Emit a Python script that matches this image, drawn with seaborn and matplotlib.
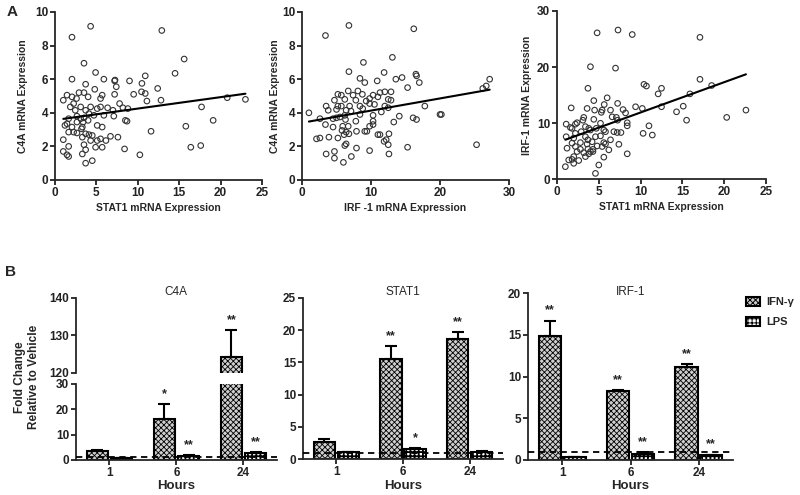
import matplotlib
matplotlib.use("Agg")
import matplotlib.pyplot as plt
from matplotlib.patches import Patch
import numpy as np
import pandas as pd
import seaborn as sns

# ── Panel A: scatter data ────────────────────────────────────────────
A1_STAT1 = [4.3, 12.9, 2.05, 15.6, 3.5, 4.9, 14.5, 2.05, 5.9, 10.9, 7.25, 7.2, 9.0, 10.5, 3.7,
            7.4, 12.4, 4.8, 10.45, 10.9, 9.5, 7.2, 2.9, 1.45, 2.05, 2.6, 3.5, 4.0, 5.5, 5.7,
            11.1, 12.8, 20.8, 23.0, 17.7, 7.8, 1.0, 1.85, 2.25, 2.45, 3.1, 3.7, 4.3, 5.1, 5.5,
            6.35, 7.0, 8.2, 8.8, 4.1, 4.7, 5.9, 7.1, 3.5, 2.65, 1.65, 1.2, 1.45, 3.1, 3.4,
            4.0, 2.65, 3.3, 3.2, 5.1, 5.7, 8.5, 8.7, 19.1, 15.8, 2.05, 2.25, 1.65, 2.65, 3.7,
            4.1, 4.5, 3.3, 11.6, 6.7, 7.6, 1.0, 4.3, 5.1, 5.5, 6.15, 1.65, 3.5, 4.9, 5.7,
            16.4, 17.6, 8.4, 10.25, 1.0, 1.45, 1.65, 3.3, 3.7, 4.5, 3.7]
A1_C4A = [9.15, 8.9, 8.5, 7.2, 6.95, 6.4, 6.35, 6.0, 6.0, 6.2, 5.95, 5.9, 5.9, 5.75, 5.7,
          5.55, 5.45, 5.4, 5.25, 5.15, 5.1, 5.1, 5.2, 5.05, 4.95, 4.85, 5.2, 4.95, 4.85, 5.05,
          4.7, 4.75, 4.9, 4.8, 4.35, 4.55, 4.75, 4.35, 4.55, 4.15, 4.35, 4.15, 4.35, 4.25, 4.35,
          4.3, 4.15, 4.3, 4.25, 3.95, 3.85, 3.85, 3.8, 3.7, 3.8, 3.65, 3.25, 3.35, 3.65, 3.45,
          3.55, 3.45, 3.15, 3.05, 3.25, 3.15, 3.55, 3.5, 3.55, 3.2, 3.15, 2.85, 2.85, 2.8, 2.75,
          2.7, 2.65, 2.55, 2.9, 2.6, 2.55, 2.4, 2.35, 2.35, 2.45, 2.35, 2.0, 2.1, 1.95, 1.95,
          1.95, 2.05, 1.85, 1.5, 1.7, 1.5, 1.4, 1.55, 1.8, 1.15, 1.0]

A2_IRF1 = [6.8, 16.2, 3.4, 8.9, 13.1, 6.8, 11.9, 16.5, 16.6, 8.4, 13.6, 14.5, 10.9, 9.1, 17.0,
           27.2, 15.3, 26.2, 26.7, 6.7, 8.1, 11.3, 12.9, 5.2, 5.7, 7.4, 8.75, 10.3, 12.0, 11.0,
           9.8, 4.7, 6.2, 7.8, 9.3, 12.5, 12.9, 3.5, 5.2, 5.7, 6.9, 8.4, 9.8, 10.5, 12.0,
           12.5, 17.8, 3.8, 5.0, 6.4, 7.1, 8.8, 11.5, 1.0, 5.5, 6.2, 8.4, 10.3, 14.1, 4.5,
           5.0, 6.3, 7.8, 10.3, 16.1, 16.6, 20.0, 20.2, 2.6, 3.4, 4.5, 5.9, 6.7, 9.8, 10.3,
           13.3, 5.8, 6.4, 7.9, 9.1, 9.4, 6.1, 6.8, 3.9, 5.2, 11.0, 11.3, 12.6, 2.1, 2.6,
           12.2, 11.9, 12.5, 6.2, 6.4, 7.9, 3.5, 4.7, 9.8, 15.3, 25.3, 4.7, 7.15, 12.6, 6.0]
A2_C4A = [9.2, 9.0, 8.6, 7.0, 7.3, 6.45, 6.4, 6.3, 6.2, 6.05, 6.0, 6.1, 5.9, 5.8, 5.8,
          6.0, 5.5, 5.45, 5.6, 5.3, 5.3, 5.2, 5.25, 5.1, 5.05, 5.05, 5.1, 5.05, 5.25, 4.95,
          4.85, 4.75, 4.8, 4.75, 4.7, 4.8, 4.75, 4.4, 4.4, 4.4, 4.4, 4.4, 4.55, 4.5, 4.4,
          4.3, 4.4, 4.15, 4.2, 4.15, 4.1, 4.25, 4.05, 4.0, 3.75, 3.85, 3.9, 3.85, 3.8, 3.65,
          3.7, 3.6, 3.5, 3.5, 3.7, 3.6, 3.9, 3.9, 3.65, 3.3, 3.15, 3.2, 3.2, 3.2, 3.3,
          3.45, 2.95, 2.85, 2.9, 2.9, 2.9, 2.7, 2.75, 2.55, 2.5, 2.7, 2.7, 2.75, 2.45, 2.5,
          2.4, 2.3, 2.1, 2.05, 2.15, 1.9, 1.55, 1.7, 1.75, 1.95, 2.1, 1.3, 1.4, 1.55, 1.05]

A3_STAT1 = [4.8, 7.3, 9.0, 17.1, 4.0, 7.0, 17.1, 10.4, 10.7, 3.7, 12.5, 12.1, 15.9, 18.5, 6.0,
            4.4, 7.25, 5.65, 15.1, 12.5, 9.4, 1.7, 3.6, 4.5, 5.4, 6.4, 7.9, 10.2, 22.6, 8.2,
            5.3, 14.3, 3.2, 20.3, 6.6, 7.1, 7.25, 4.4, 3.1, 2.4, 15.5, 8.4, 5.2, 1.1, 2.2,
            8.4, 11.0, 3.4, 1.6, 1.8, 3.8, 4.7, 4.0, 5.6, 5.8, 6.8, 2.9, 2.2, 7.2, 7.65,
            10.3, 11.4, 1.1, 2.0, 3.4, 4.6, 5.2, 6.4, 3.7, 4.2, 2.8, 1.8, 3.6, 5.6, 5.8,
            4.8, 7.4, 2.2, 5.4, 1.2, 2.8, 3.7, 4.3, 6.2, 2.4, 3.2, 4.3, 3.8, 8.4, 2.0,
            5.6, 1.4, 1.8, 2.6, 1.0, 2.0, 5.0, 4.6, 4.0, 3.4]
A3_IRF1 = [26.1, 26.6, 25.8, 25.3, 20.05, 19.8, 17.8, 16.9, 16.6, 16.2, 16.2, 15.2, 15.2, 16.7, 14.5,
           14.0, 13.5, 13.3, 13.0, 12.9, 12.9, 12.7, 12.6, 12.3, 12.3, 12.3, 12.4, 12.6, 12.3, 11.8,
           11.9, 12.0, 11.0, 11.0, 11.1, 11.0, 10.5, 10.65, 10.5, 10.05, 10.5, 10.05, 9.95, 9.8, 9.8,
           9.5, 9.5, 9.35, 9.2, 9.05, 9.05, 9.05, 8.75, 8.75, 8.45, 8.45, 8.45, 8.15, 8.3, 8.3,
           8.15, 7.85, 7.55, 7.3, 7.55, 7.55, 7.7, 7.0, 7.0, 6.65, 6.5, 6.4, 6.25, 6.5, 6.25,
           5.9, 6.2, 5.8, 5.8, 5.5, 5.3, 5.35, 5.3, 5.2, 4.9, 4.7, 4.9, 4.5, 4.5, 4.0,
           3.9, 3.4, 3.5, 3.3, 2.2, 2.8, 2.5, 1.0, 4.9, 4.0]

# ── Panel B: bar data (mean, SEM) ────────────────────────────────────
HOURS = ["1", "6", "24"]
TREATMENTS = ["IFN-\u03b3", "LPS"]

C4A_IFN = [3.5, 16.2, 124.2]
C4A_IFN_ERR = [0.4, 5.9, 7.3]
C4A_LPS = [0.6, 1.6, 2.9]
C4A_LPS_ERR = [0.1, 0.2, 0.3]
C4A_STARS_IFN = ["", "*", "**"]
C4A_STARS_LPS = ["", "**", "**"]

STAT1_IFN = [2.7, 15.6, 18.6]
STAT1_IFN_ERR = [0.4, 1.9, 1.1]
STAT1_LPS = [1.05, 1.5, 1.15]
STAT1_LPS_ERR = [0.05, 0.15, 0.05]
STAT1_STARS_IFN = ["", "**", "**"]
STAT1_STARS_LPS = ["", "*", ""]

IRF1_IFN = [14.8, 8.3, 11.1]
IRF1_IFN_ERR = [1.9, 0.1, 0.4]
IRF1_LPS = [0.3, 0.7, 0.6]
IRF1_LPS_ERR = [0.02, 0.2, 0.05]
IRF1_STARS_IFN = ["**", "**", "**"]
IRF1_STARS_LPS = ["", "**", "**"]

IFN_FACE, IFN_HATCH = "#cfcfcf", "xxxxxx"
LPS_FACE, LPS_HATCH = "white", "++++"

sns.set_theme(style="ticks")
plt.rcParams["font.family"] = ["Liberation Sans", "DejaVu Sans"]
plt.rcParams["font.weight"] = "bold"
plt.rcParams["axes.labelweight"] = "bold"
plt.rcParams["hatch.linewidth"] = 0.7
plt.rcParams["axes.linewidth"] = 1.3
plt.rcParams["xtick.major.width"] = 1.3
plt.rcParams["ytick.major.width"] = 1.3
plt.rcParams["xtick.major.size"] = 3.5
plt.rcParams["ytick.major.size"] = 3.5
plt.rcParams["xtick.color"] = "#222222"
plt.rcParams["ytick.color"] = "#222222"

TICK_FS = 8.5
LABEL_FS = 7.5
W, H = 800, 495

fig = plt.figure(figsize=(8, 4.95), dpi=100)


def px_axes(x0, x1, y_top, y_bot):
    """Axes from pixel box (origin top-left)."""
    return fig.add_axes([x0 / W, 1 - y_bot / H, (x1 - x0) / W, (y_bot - y_top) / H])


def scatter_panel(ax, x, y, xlim, xticks, ylim, yticks, xlabel, ylabel, ylab_x):
    sns.regplot(x=np.array(x), y=np.array(y), ax=ax, ci=None, truncate=True,
                scatter_kws=dict(s=16, facecolors="none", edgecolors="#333333",
                                 linewidths=0.8, alpha=1),
                line_kws=dict(color="black", lw=1.5), color="#333333")
    ax.set_xlim(*xlim)
    ax.set_ylim(*ylim)
    ax.set_xticks(xticks)
    ax.set_yticks(yticks)
    ax.tick_params(labelsize=TICK_FS, pad=1.5)
    sns.despine(ax=ax)
    ax.set_xlabel(xlabel, fontsize=LABEL_FS)
    ax.set_ylabel(ylabel, fontsize=LABEL_FS)
    ax.yaxis.set_label_coords(ylab_x, 0.5)
    ax.xaxis.set_label_coords(0.5, -0.135)


axA1 = px_axes(55, 262, 12, 180)
scatter_panel(axA1, A1_STAT1, A1_C4A, (0, 25), [0, 5, 10, 15, 20, 25], (0, 10),
              [0, 2, 4, 6, 8, 10], "STAT1 mRNA Expression", "C4A mRNA Expression", -0.13)
axA2 = px_axes(302, 509, 12, 180)
scatter_panel(axA2, A2_IRF1, A2_C4A, (0, 30), [0, 10, 20, 30], (0, 10),
              [0, 2, 4, 6, 8, 10], "IRF -1 mRNA Expression", "C4A mRNA Expression", -0.105)
axA3 = px_axes(557, 766, 11, 179)
scatter_panel(axA3, A3_STAT1, A3_IRF1, (0, 25), [0, 5, 10, 15, 20, 25], (0, 30),
              [0, 10, 20, 30], "STAT1 mRNA Expression", "IRF-1 mRNA Expression", -0.12)


def style_bar(bar, face, hatch, hatch_lw):
    bar.set_facecolor(face)
    bar.set_hatch(hatch)
    bar.set_edgecolor("black")
    bar.set_linewidth(1.5)
    if hasattr(bar, "set_hatch_linewidth"):
        bar.set_hatch_linewidth(hatch_lw)


def bar_panel(ax, ifn, ifn_err, lps, lps_err, stars_ifn, stars_lps, ylim, box):
    df = pd.DataFrame({
        "Hours": HOURS * 2,
        "value": list(ifn) + list(lps),
        "treatment": [TREATMENTS[0]] * 3 + [TREATMENTS[1]] * 3,
    })
    sns.barplot(data=df, x="Hours", y="value", hue="treatment", order=HOURS,
                hue_order=TREATMENTS, palette=[IFN_FACE, LPS_FACE], width=0.72, gap=0.1,
                errorbar=None, legend=False, ax=ax)
    styles = [(IFN_FACE, IFN_HATCH, 0.6), (LPS_FACE, LPS_HATCH, 1.3)]
    for cont, style, errs, stars in zip(ax.containers, styles,
                                        [ifn_err, lps_err], [stars_ifn, stars_lps]):
        for bar, err, star in zip(cont, errs, stars):
            style_bar(bar, *style)
            xc = bar.get_x() + bar.get_width() / 2
            top = bar.get_height()
            ax.errorbar(xc, top, yerr=[[0], [err]], fmt="none", ecolor="black",
                        elinewidth=1.5, capsize=4, capthick=1.5, zorder=1)
            if star:
                ax.annotate(star, (xc, top + err), xytext=(0, 3), textcoords="offset points",
                            ha="center", va="bottom", fontsize=9, fontweight="bold")
    ax.axhline(1, ls=(0, (3.5, 2.5)), color="black", lw=1.3, zorder=5)
    ax.set_ylim(*ylim)
    ax.set_xlim(-0.5, 2.5)
    ax.tick_params(labelsize=TICK_FS, pad=1.5)
    sns.despine(ax=ax)
    ax.set_ylabel("")
    ax.set_xlabel("Hours", fontsize=9.5)
    y_top, y_bot = box
    ax.xaxis.set_label_coords(0.5, -(480 - y_bot) / (y_bot - y_top))


# C4A: broken y-axis, two stacked axes
axB1_lo = px_axes(76, 277, 384, 460)
axB1_hi = px_axes(76, 277, 298, 373)
bar_panel(axB1_lo, C4A_IFN, C4A_IFN_ERR, C4A_LPS, C4A_LPS_ERR,
          C4A_STARS_IFN, C4A_STARS_LPS, (0, 30), (384, 460))
axB1_lo.set_yticks([0, 10, 20, 30])
bar_panel(axB1_hi, C4A_IFN, C4A_IFN_ERR, C4A_LPS, C4A_LPS_ERR,
          C4A_STARS_IFN, C4A_STARS_LPS, (120, 140), (298, 373))
axB1_hi.set_yticks([120, 130, 140])
axB1_hi.spines["bottom"].set_visible(False)
axB1_hi.tick_params(axis="x", bottom=False, labelbottom=False)
axB1_hi.set_xlabel("")

axB2 = px_axes(303, 503, 298, 459)
bar_panel(axB2, STAT1_IFN, STAT1_IFN_ERR, STAT1_LPS, STAT1_LPS_ERR,
          STAT1_STARS_IFN, STAT1_STARS_LPS, (0, 25), (298, 459))
axB2.set_yticks([0, 5, 10, 15, 20, 25])

axB3 = px_axes(528, 733, 293, 460)
bar_panel(axB3, IRF1_IFN, IRF1_IFN_ERR, IRF1_LPS, IRF1_LPS_ERR,
          IRF1_STARS_IFN, IRF1_STARS_LPS, (0, 20), (293, 460))
axB3.set_yticks([0, 5, 10, 15, 20])

# panel titles
for txt, xc in [("C4A", 176), ("STAT1", 403), ("IRF-1", 631)]:
    fig.text(xc / W, 1 - 292 / H, txt, ha="center", va="center", fontsize=8.5,
             fontweight="normal")

fig.text(27 / W, 1 - 377 / H, "Fold Change\nRelative to Vehicle", rotation=90,
         ha="center", va="center", fontsize=8.5, multialignment="center")

fig.text(12 / W, 1 - 12 / H, "A", ha="center", va="center", fontsize=11, fontweight="bold")
fig.text(10 / W, 1 - 272 / H, "B", ha="center", va="center", fontsize=11, fontweight="bold")

handles = [Patch(facecolor=IFN_FACE, edgecolor="black", hatch=IFN_HATCH, lw=1.5),
           Patch(facecolor=LPS_FACE, edgecolor="black", hatch=LPS_HATCH, lw=1.5)]
fig.legend(handles, TREATMENTS, loc="upper left", bbox_to_anchor=(746 / W, 1 - 297 / H),
           frameon=False, fontsize=8, handlelength=1.3, handleheight=0.8,
           handletextpad=0.5, labelspacing=0.9, borderaxespad=0, borderpad=0)

fig.savefig("out.png", dpi=100)
